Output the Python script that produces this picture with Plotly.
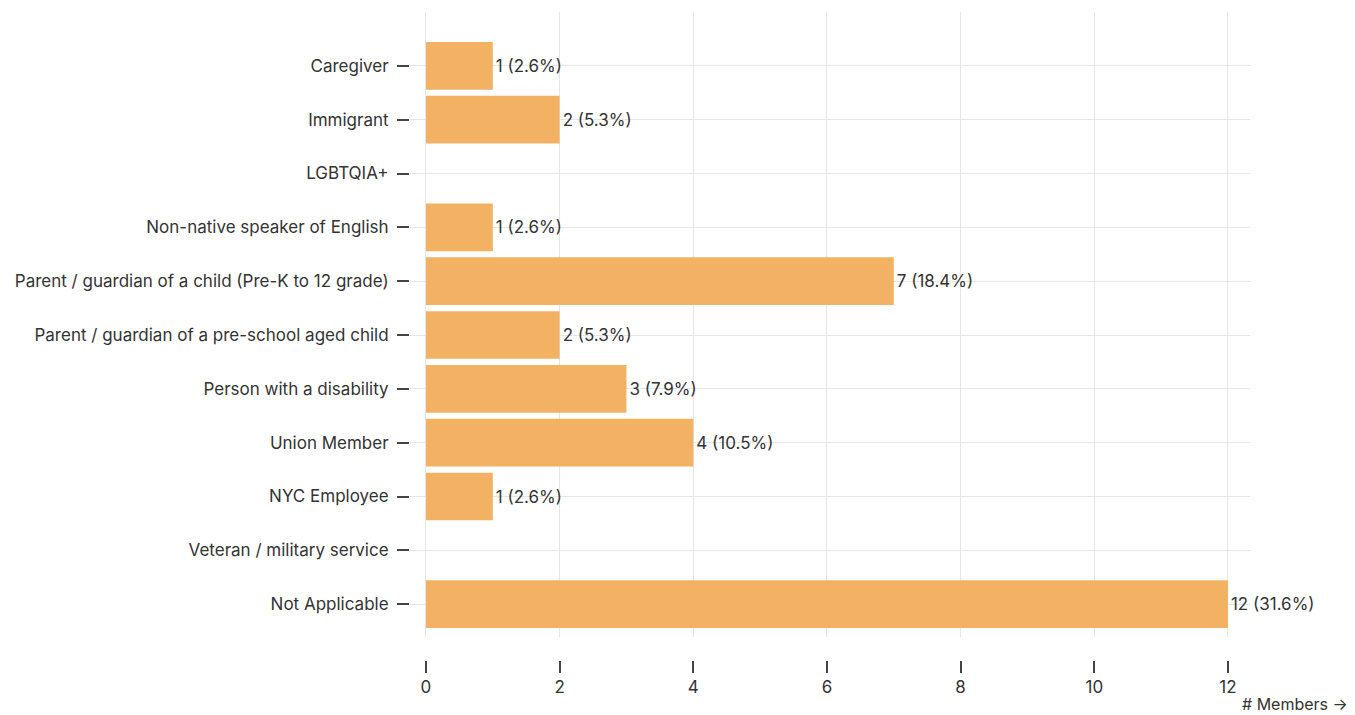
import plotly.graph_objects as go

categories = [
    "Caregiver",
    "Immigrant",
    "LGBTQIA+",
    "Non-native speaker of English",
    "Parent / guardian of a child (Pre-K to 12 grade)",
    "Parent / guardian of a pre-school aged child",
    "Person with a disability",
    "Union Member",
    "NYC Employee",
    "Veteran / military service",
    "Not Applicable",
]
members = [1, 2, 0, 1, 7, 2, 3, 4, 1, 0, 12]
labels = ["1 (2.6%)", "2 (5.3%)", "", "1 (2.6%)", "7 (18.4%)", "2 (5.3%)",
          "3 (7.9%)", "4 (10.5%)", "1 (2.6%)", "", "12 (31.6%)"]
x_ticks = [0, 2, 4, 6, 8, 10, 12]
x_title = "# Members →"

FONT = "Inter, 'Open Sans', sans-serif"
TXT = "#333333"
XR = [-0.239, 12.33]

fig = go.Figure()
fig.add_trace(go.Bar(
    y=categories, x=members, orientation="h",
    marker=dict(color="#f3b263", line=dict(width=0)),
    text=labels, textposition="outside",
    textfont=dict(size=17, color=TXT, family=FONT),
    cliponaxis=False, hoverinfo="skip",
))
# invisible trace to materialize the tick axis
fig.add_trace(go.Scatter(
    x=[0], y=[categories[0]], xaxis="x2", mode="markers",
    marker=dict(opacity=0), hoverinfo="skip", showlegend=False,
))

fig.update_layout(
    width=1347, height=707,
    margin=dict(l=402, r=105, t=4, b=40),
    paper_bgcolor="white", plot_bgcolor="white",
    bargap=0.115, showlegend=False,
    font=dict(family=FONT, size=17, color=TXT),
    xaxis=dict(
        range=XR, tickvals=x_ticks, showticklabels=False, ticks="",
        showgrid=True, gridcolor="#e6e6e6", gridwidth=1,
        zeroline=False, showline=False, fixedrange=True,
    ),
    xaxis2=dict(
        range=XR, overlaying="x", anchor="free", position=0.0226, side="bottom",
        tickvals=x_ticks, ticks="outside", ticklen=12, tickwidth=2,
        tickcolor="#444444", showgrid=False, zeroline=False, showline=False,
        tickfont=dict(size=17, color=TXT, family=FONT),
    ),
    yaxis=dict(
        domain=[0.0573, 1.0],
        categoryorder="array", categoryarray=categories,
        range=[10.61, -1.0],
        ticks="outside", ticklen=12, tickwidth=2, tickcolor="#444444",
        showgrid=True, gridcolor="#e6e6e6", gridwidth=1,
        zeroline=False, showline=False, ticklabelstandoff=5,
        tickfont=dict(size=17, color=TXT, family=FONT),
    ),
    annotations=[dict(
        text=x_title, xref="paper", yref="paper", x=1.119, y=-0.0437,
        xanchor="right", yanchor="middle", showarrow=False,
        font=dict(size=16, color=TXT, family=FONT),
    )],
)

fig.write_html("out.html")
